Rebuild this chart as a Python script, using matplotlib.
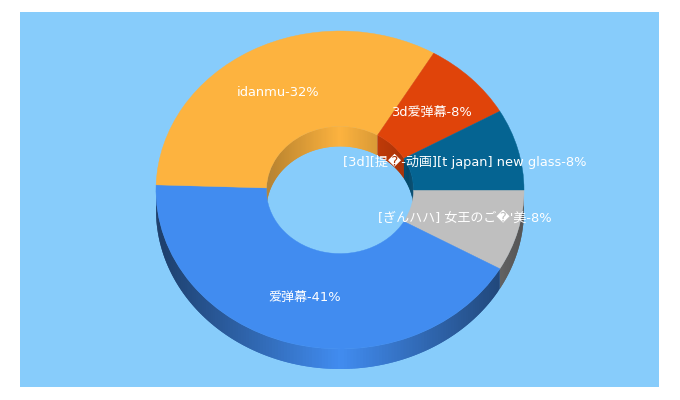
import numpy as np
import matplotlib
matplotlib.use("Agg")
import matplotlib.pyplot as plt

labels = ["[ぎんハハ] 女王のご\ufffd'美", "爱弹幕", "idanmu", "3d爱弹幕", "[3d][提\ufffd-动画][t japan] new glass"]
values = [8, 41, 32, 8, 8]
colors = ["#BFBFBF", "#418CF0", "#FDB33F", "#E0440A", "#056492"]
bg = "#87CCFB"

inner = 0.4
depth = 20 / 159


def shade(color, f):
    rgb = np.array(matplotlib.colors.to_rgb(color))
    return tuple(rgb * f)


def draw_wall(ax, a0, a1, radius, color, lower, low_f, zorder):
    # a0, a1 in degrees, measured clockwise on screen from east
    n = max(int(abs(a1 - a0) / 1.0), 1)
    t = np.radians(np.linspace(a0, a1, n + 1))
    for i in range(n):
        # only the part of the wall that faces us
        mid = np.sin((t[i] + t[i + 1]) / 2)
        if (lower and mid < 0) or (not lower and mid > 0):
            continue
        # each quad runs over the next one so no seams show
        end = t[min(i + 2, n)]
        xa, xb = radius * np.cos(t[i]), radius * np.cos(end)
        ya, yb = -radius * np.sin(t[i]), -radius * np.sin(end)
        u = abs(np.cos((t[i] + t[i + 1]) / 2))
        c = shade(color, 1 - (1 - low_f) * u)
        ax.fill([xa, xb, xb, xa], [ya, yb, yb - depth, ya - depth],
                color=c, lw=0, zorder=zorder)


fig = plt.figure(figsize=(6.8, 4), dpi=100, facecolor="white")
panel = fig.add_axes([20 / 680, 13 / 400, 639 / 680, 375 / 400])
panel.set_facecolor(bg)
panel.set_xticks([])
panel.set_yticks([])
for s in panel.spines.values():
    s.set_visible(False)

# ellipse of the top face: x 156-524, y 31-349 (pixels from top)
ax = fig.add_axes([156 / 680, (400 - 349) / 400, 368 / 680, 318 / 400])
wedges, _ = ax.pie(values, colors=colors, startangle=0, counterclock=False, radius=1,
                   wedgeprops=dict(width=1 - inner, linewidth=0.3, zorder=5))
for w, col in zip(wedges, colors):
    w.set_edgecolor(col)
ax.set_aspect("auto")
ax.set_xlim(-1, 1)
ax.set_ylim(-1, 1)
ax.patch.set_visible(False)

total = sum(values)
start = 0
for lab, val, col in zip(labels, values, colors):
    end = start + val / total * 360
    draw_wall(ax, start, end, 1, col, True, 0.44, 2)
    draw_wall(ax, start, end, inner, col, False, 0.72, 3)
    mid = np.radians((start + end) / 2)
    ax.text(0.7 * np.cos(mid), -0.7 * np.sin(mid), f"{lab}-{round(val)}%",
            ha="center", va="center", color="white", fontsize=9.4, zorder=10,
            family=["DejaVu Sans", "Noto Sans CJK JP"])
    start = end

for a in ax.findobj(matplotlib.patches.Polygon):
    a.set_clip_on(False)

fig.savefig("out.png", dpi=100)
